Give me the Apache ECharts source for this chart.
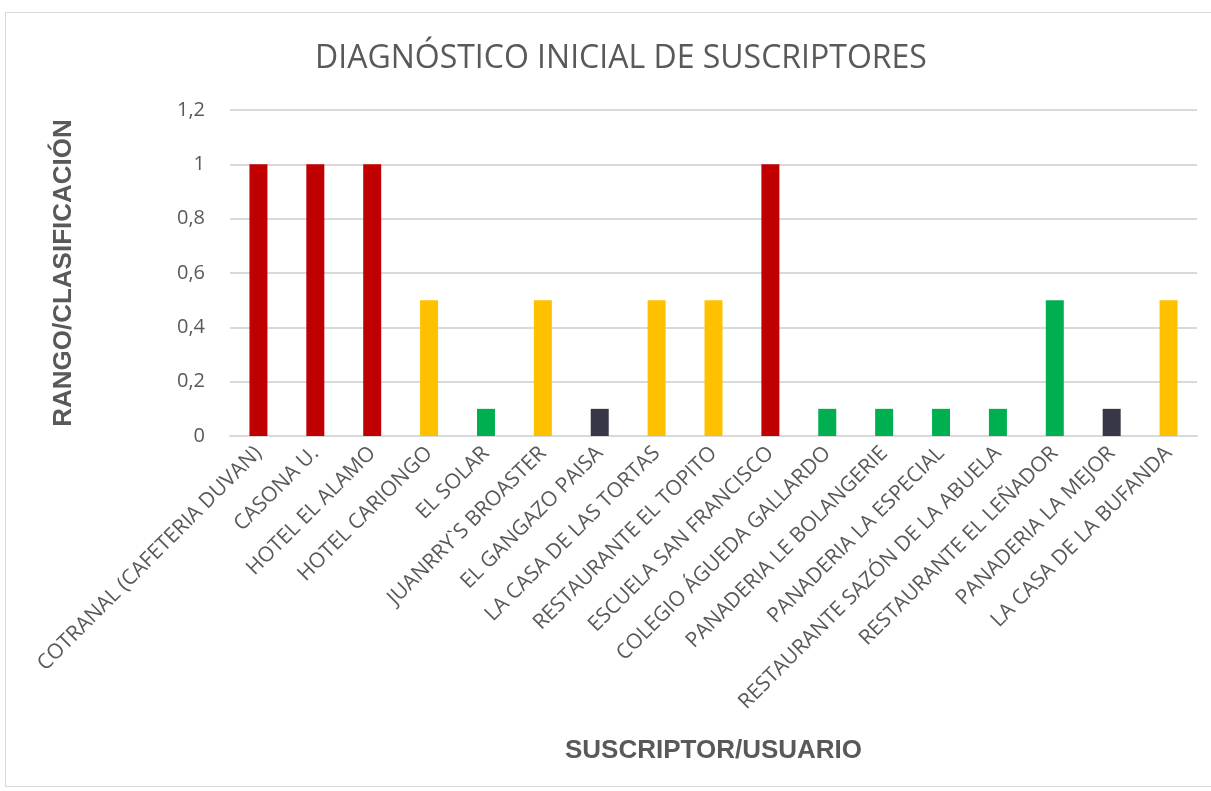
<!DOCTYPE html>
<html>
<head>
<meta charset="utf-8">
<script src="https://cdn.jsdelivr.net/npm/echarts@6/dist/echarts.min.js"></script>
<style>
  html, body { margin: 0; padding: 0; background: #fff; }
  #frame { position: absolute; left: 5px; top: 12px; width: 1210px; height: 775px; border: 1px solid #d9d9d9; box-sizing: border-box; }
  #main { width: 1211px; height: 791px; }
</style>
</head>
<body>
<div id="frame"></div>
<div id="main"></div>
<script>
// datos del diagnóstico
var suscriptores = [
  'COTRANAL (CAFETERIA DUVAN)', 'CASONA U.', 'HOTEL EL ALAMO', 'HOTEL CARIONGO',
  'EL SOLAR', 'JUANRRY`S BROASTER', 'EL GANGAZO PAISA', 'LA CASA DE LAS TORTAS',
  'RESTAURANTE EL TOPITO', 'ESCUELA SAN FRANCISCO', 'COLEGIO ÁGUEDA GALLARDO',
  'PANADERIA LE BOLANGERIE', 'PANADERIA LA ESPECIAL', 'RESTAURANTE SAZÓN DE LA ABUELA',
  'RESTAURANTE EL LEÑADOR', 'PANADERIA LA MEJOR', 'LA CASA DE LA BUFANDA'
];
var rango = [1, 1, 1, 0.5, 0.1, 0.5, 0.1, 0.5, 0.5, 1, 0.1, 0.1, 0.1, 0.1, 0.5, 0.1, 0.5];
// color de cada barra
var colores = [
  '#C00000', '#C00000', '#C00000', '#FFC000', '#00B050', '#FFC000', '#383747', '#FFC000',
  '#FFC000', '#C00000', '#00B050', '#00B050', '#00B050', '#00B050', '#00B050', '#383747', '#FFC000'
];

var myChart = echarts.init(document.getElementById('main'));
myChart.setOption({
  animation: false,
  title: {
    text: 'DIAGNÓSTICO INICIAL DE SUSCRIPTORES',
    left: 310, top: 38,
    textStyle: { fontFamily: 'Open Sans', fontWeight: 'normal', fontSize: 32, color: '#595959' }
  },
  grid: { left: 230, right: 14, top: 110, bottom: 355 },
  xAxis: {
    type: 'category',
    data: suscriptores,
    name: 'SUSCRIPTOR/USUARIO',
    nameLocation: 'middle',
    nameGap: 302,
    nameTextStyle: { fontFamily: 'Liberation Sans', fontWeight: 'bold', fontSize: 26, color: '#595959' },
    axisLine: { lineStyle: { color: '#d9d9d9', width: 2 } },
    axisTick: { show: false },
    axisLabel: { rotate: 45, interval: 0, margin: 14, fontFamily: 'Open Sans', fontSize: 21, color: '#595959' }
  },
  yAxis: {
    type: 'value',
    min: 0, max: 1.2, interval: 0.2,
    name: 'RANGO/CLASIFICACIÓN',
    nameLocation: 'middle',
    nameGap: 153,
    nameTextStyle: { fontFamily: 'Liberation Sans', fontWeight: 'bold', fontSize: 26, color: '#595959' },
    axisLine: { show: false },
    axisTick: { show: false },
    axisLabel: {
      margin: 25, fontFamily: 'Open Sans', fontSize: 20, color: '#595959',
      formatter: function (v) { return String(Math.round(v * 10) / 10).replace('.', ','); }
    },
    splitLine: { lineStyle: { color: '#d9d9d9', width: 2 } }
  },
  series: [{
    type: 'bar',
    barWidth: 18,
    data: rango.map(function (v, i) { return { value: v, itemStyle: { color: colores[i] } }; })
  }]
});
</script>
</body>
</html>
